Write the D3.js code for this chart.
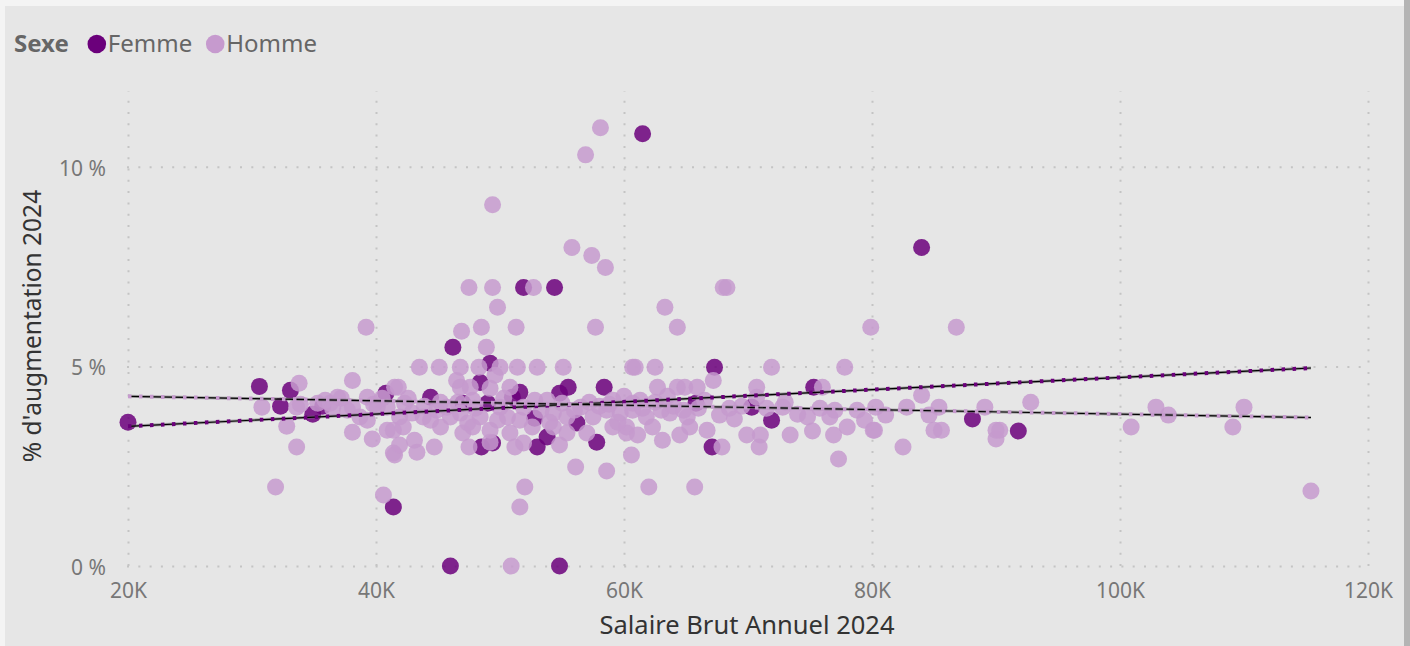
<!DOCTYPE html>
<html><head><meta charset="utf-8">
<script src="https://cdn.jsdelivr.net/npm/d3@7"></script>
<style>
html,body{margin:0;padding:0;background:#f4f4f4;overflow:hidden;}
svg{display:block;font-family:"Segoe UI","Noto Sans","Open Sans",sans-serif;}
</style></head><body>
<svg id="chart" width="1410" height="646"></svg>
<script>
// ---------- DATA ----------
const xTickValues = [20000, 40000, 60000, 80000, 100000, 120000];
const xTickLabels = ["20K", "40K", "60K", "80K", "100K", "120K"];
const yTickValues = [0, 5, 10];
const yTickLabels = ["0 %", "5 %", "10 %"];
const legendTitle = "Sexe";
const seriesNames = ["Femme", "Homme"];
const seriesColors = ["#6B007B", "#C69ACE"];
const xTitle = "Salaire Brut Annuel 2024";
const yTitle = "% d'augmentation 2024";

// [salaire, % augmentation]
const femmePoints = [
  [20000,3.6],[30600,4.5],[32300,4.0],[33100,4.4],[34900,3.8],[35700,4.0],[40800,4.33],[41400,1.48],
  [44400,4.23],[47000,4.08],[46200,5.48],[46000,0.0],[48400,4.6],[49200,5.08],[49000,4.08],[48500,2.98],
  [49400,3.08],[51000,4.23],[51600,4.35],[51900,6.98],[52800,3.7],[53000,2.98],[53800,3.23],[54400,6.98],
  [54800,0.0],[54800,4.33],[55500,4.48],[56200,3.58],[57800,3.1],[58400,4.48],[61500,10.83],[65800,4.08],
  [67100,2.98],[67300,4.98],[70300,3.98],[71900,3.65],[75300,4.48],[84000,7.98],[88100,3.68],[91800,3.38]
];
const hommePoints = [
  [30800,3.98],[32800,3.5],[31900,1.98],[33600,2.98],[33800,4.58],[33600,3.98],[33900,4.05],[35300,4.08],
  [35900,4.15],[36300,4.08],[36900,4.23],[37700,3.9],[38100,4.65],[38100,3.98],[38100,3.35],[38700,3.73],
  [39200,5.98],[39300,4.23],[39300,3.65],[39700,3.18],[40100,3.98],[40600,1.78],[40900,3.4],[40900,3.98],
  [41400,2.83],[41400,3.4],[41500,4.48],[41500,2.78],[41800,4.48],[41900,3.73],[41900,3.03],[42200,3.48],
  [42300,4.08],[42900,3.83],[43100,3.15],[43300,2.85],[43500,4.98],[43800,3.73],[44400,3.65],[44700,2.98],
  [45100,4.98],[45200,4.1],[45200,3.48],[45700,3.98],[46000,3.73],[46500,4.65],[46600,4.1],[46800,4.98],
  [46800,4.48],[46800,3.83],[46900,5.88],[47000,3.33],[47400,3.58],[47500,6.98],[47500,2.98],[47600,4.48],
  [47800,3.48],[47800,4.15],[48300,4.98],[48400,3.73],[48500,5.98],[48900,5.48],[49200,4.45],[49200,3.4],
  [49200,3.1],[49400,6.98],[49400,9.05],[49600,4.78],[49800,6.48],[49800,3.65],[50000,4.98],[50000,3.98],
  [50600,3.73],[50800,4.48],[50800,3.33],[50900,0.0],[51200,2.98],[51300,5.98],[51400,4.98],[51600,3.65],
  [51600,1.48],[51900,3.98],[51900,3.08],[52000,1.98],[52600,3.48],[52700,6.98],[52800,4.15],[53000,4.98],
  [53800,4.15],[54300,3.83],[54300,3.48],[54800,3.03],[55000,4.08],[55100,4.98],[55400,3.73],[55400,3.33],
  [55800,7.98],[56100,2.48],[56500,3.98],[56900,10.3],[57000,3.33],[57400,7.78],[57500,3.73],[57700,5.98],
  [58100,10.98],[58500,7.48],[58600,3.9],[58600,2.38],[59100,3.48],[59100,4.15],[59700,3.83],[60200,3.33],
  [60200,3.48],[60600,2.78],[60700,4.08],[60700,3.9],[60700,4.98],[60900,4.98],[61100,3.28],[61300,4.15],
  [61800,3.73],[62000,1.98],[62300,3.48],[62500,4.98],[62700,4.48],[63100,3.15],[63300,6.48],[63700,3.83],
  [64300,5.98],[64300,4.48],[64500,3.28],[64900,4.48],[65100,3.73],[65300,3.48],[65700,1.98],[65900,4.48],
  [66700,3.4],[67200,4.65],[67700,3.78],[67900,2.98],[68000,6.98],[68300,6.98],[68900,3.68],[69900,3.28],
  [70700,4.48],[70700,4.23],[70900,2.98],[71000,3.28],[71900,4.98],[72800,3.98],[73400,3.28],[74800,3.73],
  [75200,3.38],[76000,4.48],[76600,3.73],[76900,3.28],[77300,2.68],[77800,4.98],[78000,3.48],[78800,3.9],
  [79400,3.65],[79900,5.98],[80100,3.4],[80200,3.4],[80300,3.98],[81100,3.78],[82500,2.98],[82800,3.98],
  [84000,4.28],[84600,3.78],[85000,3.4],[85400,3.98],[85600,3.4],[86800,5.98],[89100,3.98],[90000,3.4],
  [90000,3.18],[90300,3.4],[92800,4.1],[100900,3.48],[102900,3.98],[103900,3.78],[109100,3.48],[110000,3.98],
  [115400,1.88],
  [58000,4.0],[59500,3.6],[60000,4.25],[61500,3.95],[62500,4.1],[63000,3.9],[63500,4.25],[64000,4.0],
  [64800,3.9],[66000,3.95],[66500,4.15],[68500,3.95],[69500,4.0],[71500,3.95],[73000,4.1],[74000,3.8],
  [75800,3.95],[77000,3.9],[36500,3.95],[37200,4.2],[39800,4.05],[40500,4.2],[42600,4.2],[43900,4.0],
  [44900,3.9],[48000,3.95],[50300,4.2],[53300,3.9],[54000,3.6],[56000,3.9],[57200,4.1],[58800,4.05]
];
const femmeTrend = [[20000,3.5],[115400,4.96]];
const hommeTrend = [[20000,4.25],[115400,3.72]];

// ---------- CHART ----------
const FONT = '"Segoe UI","Noto Sans","Open Sans",sans-serif';
const svg = d3.select("#chart");
svg.append("rect").attr("x",5).attr("y",6).attr("width",1399).attr("height",640).attr("fill","#e6e6e6");
svg.append("rect").attr("x",1404).attr("y",0).attr("width",6).attr("height",646).attr("fill","#b4b4b4");

const x = d3.scaleLinear().domain([20000,120000]).range([128,1368]);
const y = d3.scaleLinear().domain([0,11.9]).range([566,91]);

const gridColor = "#c4c4c4";
// vertical grid
const xGrid = svg.append("g").attr("transform",`translate(0,${y(0)})`)
  .call(d3.axisBottom(x).tickValues(xTickValues).tickSize(-(y(0)-y(11.9))).tickFormat(""));
xGrid.select(".domain").remove();
xGrid.selectAll("line").attr("stroke",gridColor).attr("stroke-width",2).attr("stroke-dasharray","2,9.3");
// horizontal grid
const yGrid = svg.append("g").attr("transform",`translate(${x(20000)-1},0)`)
  .call(d3.axisRight(y).tickValues(yTickValues).tickSize(x(120000)-x(20000)+3).tickFormat(""));
yGrid.select(".domain").remove();
yGrid.selectAll("line").attr("stroke",gridColor).attr("stroke-width",2).attr("stroke-dasharray","2,9.3");

// axes labels
const xAxis = svg.append("g").attr("transform",`translate(0,${y(0)})`)
  .call(d3.axisBottom(x).tickValues(xTickValues).tickSize(0).tickPadding(0)
    .tickFormat((d,i)=>xTickLabels[i]));
xAxis.select(".domain").remove();
xAxis.selectAll("text").attr("y",32).attr("dy",0).attr("fill","#777").style("font-size","21px")
  .style("font-family",FONT);

const yAxis = svg.append("g").attr("transform",`translate(106,0)`)
  .call(d3.axisLeft(y).tickValues(yTickValues).tickSize(0).tickPadding(0)
    .tickFormat((d,i)=>yTickLabels[i]));
yAxis.select(".domain").remove();
yAxis.selectAll("text").attr("x",0).attr("dy","0.4em").attr("fill","#777").style("font-size","21px")
  .style("font-family",FONT);

// points
const series = [femmePoints, hommePoints];
series.forEach((pts,si)=>{
  svg.append("g").selectAll("circle").data(pts).join("circle")
    .attr("cx",d=>x(d[0])).attr("cy",d=>y(d[1])).attr("r",8.5)
    .attr("fill",seriesColors[si]).attr("fill-opacity",0.85);
});

// trend lines
const line = d3.line().x(d=>x(d[0])).y(d=>y(d[1]));
[femmeTrend, hommeTrend].forEach((t,si)=>{
  svg.append("path").attr("d",line(t)).attr("fill","none").attr("stroke","#6e6e6e").attr("stroke-width",3).attr("stroke-opacity",0.55);
  svg.append("path").attr("d",line(t)).attr("fill","none").attr("stroke","#000").attr("stroke-width",1.2);
  svg.append("path").attr("d",line(t)).attr("fill","none").attr("stroke",seriesColors[si]).attr("stroke-width",4)
    .attr("stroke-dasharray","3.5,7.5");
});

// axis titles
svg.append("text").attr("x",747).attr("y",634).attr("text-anchor","middle")
  .attr("fill","#333").style("font-size","25.5px").text(xTitle);
svg.append("text").attr("transform","translate(41,326) rotate(-90)").attr("text-anchor","middle")
  .attr("fill","#333").style("font-size","24.5px").text(yTitle);

// legend
const lg = svg.append("g");
const t0 = lg.append("text").attr("x",14).attr("y",52).attr("fill","#666").style("font-size","24px")
  .style("font-weight","bold").text(legendTitle);
let cx = 14 + t0.node().getComputedTextLength() + 19;
seriesNames.forEach((n,i)=>{
  lg.append("circle").attr("cx",cx+9).attr("cy",44).attr("r",9.3).attr("fill",seriesColors[i]);
  const t = lg.append("text").attr("x",cx+20).attr("y",52).attr("fill","#666").style("font-size","24px").text(n);
  cx = cx + 20 + t.node().getComputedTextLength() + 14;
});
</script>
</body></html>
